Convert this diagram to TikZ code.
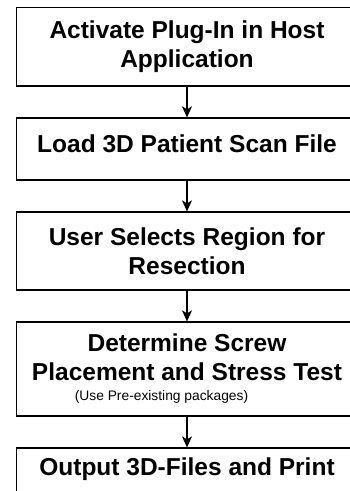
\documentclass[tikz,border=0pt]{standalone}
\usepackage{fontspec}
\setmainfont{Liberation Sans}
\usepackage{tikz}
\usetikzlibrary{positioning, arrows.meta}

\begin{document}
\begin{tikzpicture}[x=1pt, y=1pt]
  \newcommand\stepspacing{30.7pt} % 32 between the lines, minus outer sep
  \newcommand\stepwidth{330pt}
  \newcommand\stepnote[1]{\leavevmode\hbox{\fontsize{13.8}{16}\selectfont\mdseries #1}}

  \tikzset{ptr/.style={-{Stealth[length=11pt, width=10pt, inset=3pt]}, line width=1.3pt}}
  \tikzset{stepbox/.style={draw, line width=1.3pt, text width=\stepwidth, inner xsep=5.5pt, align=flush center, font=\fontsize{24.5}{29}\selectfont\bfseries}}

  \useasboundingbox (0, 0) rectangle (350, -491);
  \clip (0, 0) rectangle (350, -491);

  \node[stepbox, minimum height=78.5pt] at (187, -46.75) (step1) {Activate Plug-In in Host\\Application};
  \node[stepbox, below=\stepspacing of step1, minimum height=62pt, text depth=11pt] (step2) {Load 3D Patient Scan File};
  \node[stepbox, below=\stepspacing of step2, minimum height=78pt] (step3) {User Selects Region for\\Resection};
  \node[stepbox, below=\stepspacing of step3, minimum height=94pt] (step4) {Determine Screw\\Placement and Stress Test\\[-9pt]\stepnote{(Use Pre-existing packages)\kern51pt}};
  % last box runs off the page
  \node[stepbox, below=\stepspacing of step4, minimum height=62pt, text depth=24pt] (step5) {Output 3D-Files and Print};

  \foreach \from [count=\to from 2] in {1, ..., 4}{
    \draw[ptr] (step\from) -- (step\to);
  }
\end{tikzpicture}
\end{document}
